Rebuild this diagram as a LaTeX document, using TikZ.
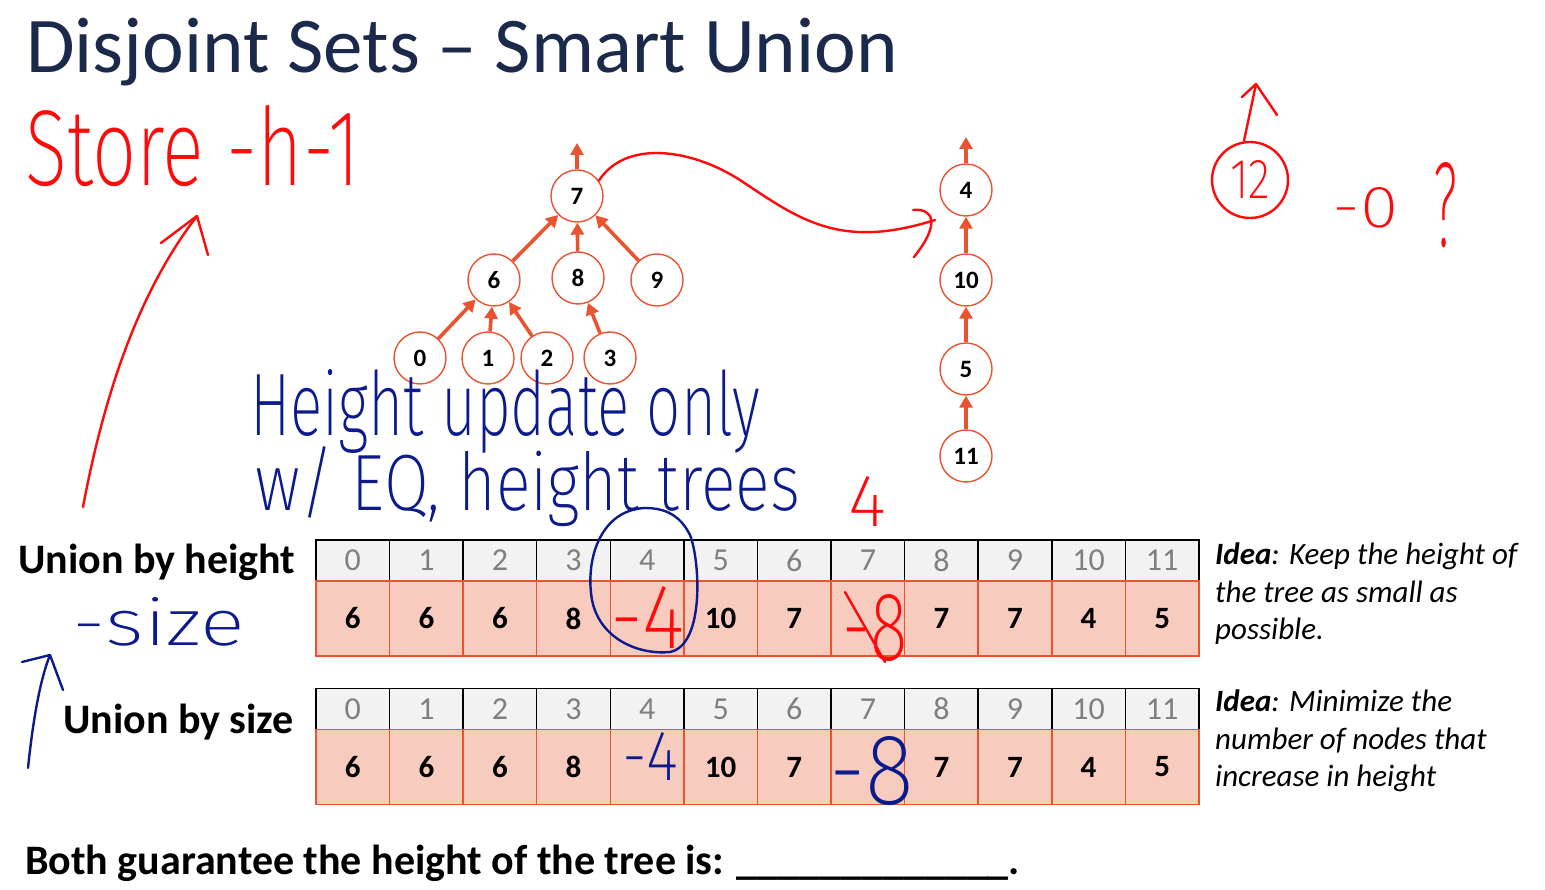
\documentclass[tikz,border=0pt]{standalone}
\usepackage{fontspec}
\setmainfont{Carlito}
\newfontfamily\hwfont{Fira Sans ExtraLight}
\usetikzlibrary{arrows.meta}
\definecolor{titleblue}{HTML}{1B2A4A}
\definecolor{treeorange}{HTML}{E9532F}
\definecolor{cellpink}{HTML}{F8CBBF}
\definecolor{headgray}{HTML}{F2F2F2}
\definecolor{digitgray}{HTML}{7F7F7F}
\definecolor{inkred}{HTML}{FF0A0A}
\definecolor{inkblue}{HTML}{0C1A8C}
\begin{document}
\begin{tikzpicture}[x=1pt,y=-1pt,
  vert/.style={circle, draw=treeorange, line width=1.4pt, minimum size=52pt, inner sep=0pt,
    font=\bfseries\fontsize{25}{25}\selectfont},
  link/.style={treeorange, line width=3.6pt, -{Triangle[length=12pt,width=13pt]}},
  headcell/.style={draw=black, fill=headgray, line width=1.5pt, minimum width=73.58pt,
    minimum height=41pt, inner sep=0pt, text=digitgray, font=\fontsize{32}{32}\selectfont},
  valcell/.style={draw=treeorange, fill=cellpink, line width=1.5pt, minimum width=73.58pt,
    minimum height=75pt, inner sep=0pt, font=\bfseries\fontsize{31}{31}\selectfont},
  label/.style={anchor=base west, inner sep=0pt, font=\bfseries\fontsize{42}{42}\selectfont},
  idea/.style={anchor=north west, inner sep=0pt, align=left, font=\itshape\fontsize{31}{37.5}\selectfont},
  ink/.style={line width=2.4pt, line cap=round, line join=round},
  redink/.style={ink, draw=inkred},
  blueink/.style={ink, draw=inkblue},
  hw/.style={anchor=base west, inner sep=0pt, font=\hwfont},
]
\useasboundingbox (0,0) rectangle (1545,890);

% ---------- title ----------
\node[anchor=base west, inner sep=0pt, text=titleblue, font=\fontsize{79}{79}\selectfont]
  (title) at (26,73) {Disjoint Sets – Smart Union};

% ---------- left tree (root 7) ----------
\node[vert] (n7) at (577,196) {7};
\node[vert] (n6) at (494,280) {6};
\node[vert] (n8) at (578,278) {8};
\node[vert] (n9) at (657,280) {9};
\node[vert] (n0) at (420,358) {0};
\node[vert] (n1) at (488,358) {1};
\node[vert] (n2) at (547,358) {2};
\node[vert] (n3) at (610,358) {3};
\coordinate (up7) at (577,143);
\draw[link] (n7) -- (up7);
\draw[link] (n6) -- (n7);
\draw[link] (n8) -- (n7);
\draw[link] (n9) -- (n7);
\draw[link] (n0) -- (n6);
\draw[link] (n1) -- (n6);
\draw[link] (n2) -- (n6);
\draw[link] (n3) -- (n8);

% ---------- right tree (root 4) ----------
\node[vert] (n4) at (966,190) {4};
\node[vert] (n10) at (966,280) {10};
\node[vert] (n5) at (966,369) {5};
\node[vert] (n11) at (966,456) {11};
\coordinate (up4) at (966,137);
\draw[link] (n4) -- (up4);
\draw[link] (n10) -- (n4);
\draw[link] (n5) -- (n10);
\draw[link] (n11) -- (n5);

% ---------- the two parent arrays ----------
\foreach \v [count=\j from 0] in {6,6,6,8,{},10,7,{},7,7,4,5} {
  \pgfmathsetmacro{\cx}{316+73.58*(\j+0.5)}
  \node[headcell] (ha\j) at (\cx,560.5) {\j};
  \node[headcell] (hb\j) at (\cx,709) {\j};
}
\foreach \v [count=\j from 0] in {6,6,6,8,{},10,7,{},7,7,4,5} {
  \pgfmathsetmacro{\cx}{316+73.58*(\j+0.5)}
  \node[valcell] (va\j) at (\cx,618.5) {\v};
  \node[valcell] (vb\j) at (\cx,767) {\v};
}

\node[label] (byheight) at (18,573) {Union by height};
\node[label] (bysize) at (63,733) {Union by size};

\node[idea] (idea1) at (1215,543) {\textbf{Idea}: Keep the height of\\the tree as small as\\possible.};
\node[idea] (idea2) at (1215,690) {\textbf{Idea}: Minimize the\\number of nodes that\\increase in height};

\node[anchor=base west, inner sep=0pt, font=\bfseries\fontsize{42}{42}\selectfont]
  (both) at (25,874) {Both guarantee the height of the tree is: \_\_\_\_\_\_\_\_\_\_\_\_\_.};

% ---------- red pen notes ----------
\node[hw, text=inkred] (store) at (25,186) {\resizebox{335pt}{80pt}{Store -h-1}};
\coordinate (storetail) at (83,507);
\coordinate (storetip) at (197,216);
\draw[redink] (storetail) .. controls (105,390) and (140,290) .. (storetip);
\draw[redink] (161,243) -- (storetip) -- (208,255);

\coordinate (mergeend) at (935,220);
\draw[redink] (n7.35) .. controls (625,140) and (690,148) .. (740,180)
  .. controls (800,220) and (840,250) .. (mergeend);
\draw[redink] (913,210) .. controls (932,208) and (942,222) .. (914,257);

\node[circle, redink, minimum size=76pt, inner sep=0pt] (twelve) at (1250,180)
  {\hwfont\color{inkred}\resizebox{40pt}{38pt}{12}};
\coordinate (twtip) at (1256,84);
\draw[redink] (twelve.north) ++(-6,0) -- (twtip);
\draw[redink] (1242,97) -- (twtip) -- (1277,115);
\node[hw, text=inkred] (minuszero) at (1332,228) {\resizebox{66pt}{40pt}{-0}};
\node[hw, text=inkred] (qmark) at (1433,247) {\resizebox{24pt}{84pt}{?}};

\node[hw, text=inkred] (redfour) at (848,526) {\resizebox{38pt}{50pt}{4}};
\node[hw, text=inkred] (redmfour) at (610,648) {\resizebox{74pt}{62pt}{-4}};
\node[hw, text=inkred] (redeight) at (842,660) {\resizebox{65pt}{66pt}{-8}};
\draw[redink] (845,592) -- (885,662);

% ---------- blue pen notes ----------
\node[hw, text=inkblue] (note1) at (250,436) {\resizebox{510pt}{66pt}{Height update only}};
\node[hw, text=inkblue] (note2) at (255,510) {\resizebox{545pt}{64pt}{w/ EQ, height trees}};
\draw[blueink] (645,508) .. controls (600,510) and (585,560) .. (592,600)
  .. controls (600,640) and (640,655) .. (670,652)
  .. controls (705,645) and (700,560) .. (690,535)
  .. controls (680,515) and (665,508) .. (645,508);
\node[hw, text=inkblue] (sizenote) at (72,645) {\resizebox{173pt}{48pt}{-size}};
\coordinate (sizetip) at (50,655);
\draw[blueink] (28,768) .. controls (33,720) and (40,680) .. (sizetip);
\draw[blueink] (22,662) -- (sizetip) -- (63,690);
\node[hw, text=inkblue] (bluemfour) at (622,780) {\resizebox{56pt}{48pt}{-4}};
\node[hw, text=inkblue] (bluemeight) at (829,804) {\resizebox{85pt}{68pt}{-8}};
\end{tikzpicture}
\end{document}
